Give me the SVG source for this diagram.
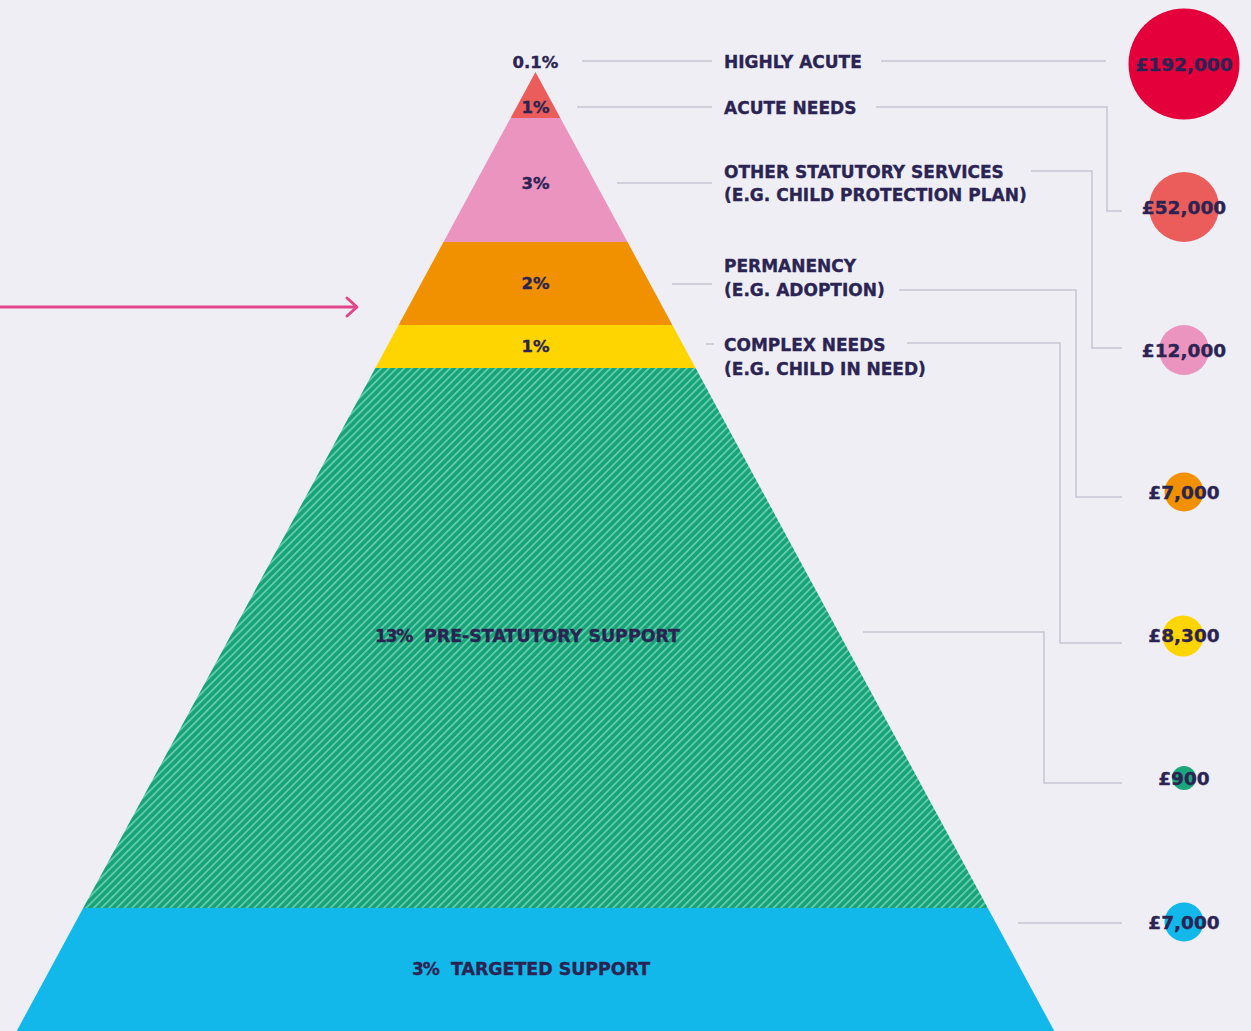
<svg xmlns="http://www.w3.org/2000/svg" width="1251" height="1031" viewBox="0 0 1251 1031">
  <defs>
    <pattern id="hatch" patternUnits="userSpaceOnUse" width="5.4" height="5.4" patternTransform="rotate(45)">
      <rect x="0" y="0" width="5.4" height="5.4" fill="#17a278"/>
      <rect x="0" y="0" width="1.9" height="5.4" fill="#5fcca9"/>
    </pattern>
  </defs>
  <style>
    text { font-family: "DejaVu Sans", "Liberation Sans", sans-serif; font-weight: bold; fill: #2b2453; stroke: #2b2453; stroke-width: 0.35; }
    .lbl { font-size: 17px; }
    .pct { font-size: 16.5px; text-anchor: middle; }
    .amt { font-size: 18.5px; text-anchor: middle; }
    .conn { fill: none; stroke: #c6c5d2; stroke-width: 1.5; }
    .arrow { fill: none; stroke: #e2468a; stroke-width: 3; stroke-linecap: round; stroke-linejoin: round; }
  </style>
  <rect width="1251" height="1031" fill="#efeef5"/>

  <g id="connectors">
    <line class="conn" x1="582" y1="61" x2="712" y2="61"/>
    <line class="conn" x1="577" y1="107" x2="712" y2="107"/>
    <line class="conn" x1="617" y1="183" x2="712" y2="183"/>
    <line class="conn" x1="672" y1="284" x2="712" y2="284"/>
    <line class="conn" x1="706" y1="344" x2="714" y2="344"/>
    <line class="conn" x1="881" y1="61" x2="1106" y2="61"/>
    <polyline class="conn" points="876,107 1107,107 1107,211 1122,211"/>
    <polyline class="conn" points="1031,171 1092,171 1092,348 1122,348"/>
    <polyline class="conn" points="899,290 1076,290 1076,497 1122,497"/>
    <polyline class="conn" points="907,343 1060,343 1060,643 1122,643"/>
    <polyline class="conn" points="863,632 1044,632 1044,783 1122,783"/>
    <line class="conn" x1="1018" y1="923" x2="1122" y2="923"/>
    <line class="arrow" x1="0" y1="307" x2="356" y2="307"/>
    <polyline class="arrow" points="347,298 357,307 347,316"/>
  </g>

  <g id="band-highly-acute">
    <text class="pct" x="535.5" y="68">0.1%</text>
  </g>
  <g id="band-acute">
    <polygon points="535.5,72 560.4,118 510.6,118" fill="#ea5d5a"/>
    <text class="pct" x="535.5" y="113">1%</text>
  </g>
  <g id="band-other-statutory">
    <polygon points="510.6,118 560.4,118 627.5,242 443.5,242" fill="#ec94c0"/>
    <text class="pct" x="535.5" y="189">3%</text>
  </g>
  <g id="band-permanency">
    <polygon points="443.5,242 627.5,242 672.4,325 398.6,325" fill="#f29100"/>
    <text class="pct" x="535.5" y="289">2%</text>
  </g>
  <g id="band-complex">
    <polygon points="398.6,325 672.4,325 695.6,368 375.4,368" fill="#ffd500"/>
    <text class="pct" x="535.5" y="352">1%</text>
  </g>
  <g id="band-pre-statutory">
    <polygon points="375.4,368 695.6,368 987.8,908 83.2,908" fill="url(#hatch)"/>
    <text class="lbl" x="375" y="641.5" letter-spacing="-1.2">13%</text>
    <text class="lbl" x="424" y="641.5" textLength="256" lengthAdjust="spacingAndGlyphs">PRE-STATUTORY SUPPORT</text>
  </g>
  <g id="band-targeted">
    <polygon points="83.2,908 987.8,908 1054.3,1031 16.7,1031" fill="#12b8ea"/>
    <text class="lbl" x="412" y="974.5" letter-spacing="-1.2">3%</text>
    <text class="lbl" x="451" y="974.5" textLength="199" lengthAdjust="spacingAndGlyphs">TARGETED SUPPORT</text>
  </g>

  <g id="label-highly-acute"><text class="lbl" x="724" y="67.5">HIGHLY ACUTE</text></g>
  <g id="label-acute-needs"><text class="lbl" x="724" y="113.5">ACUTE NEEDS</text></g>
  <g id="label-other-statutory">
    <text class="lbl" x="724" y="177.5">OTHER STATUTORY SERVICES</text>
    <text class="lbl" x="724" y="200.5">(E.G. CHILD PROTECTION PLAN)</text>
  </g>
  <g id="label-permanency">
    <text class="lbl" x="724" y="271.5">PERMANENCY</text>
    <text class="lbl" x="724" y="295.5">(E.G. ADOPTION)</text>
  </g>
  <g id="label-complex">
    <text class="lbl" x="724" y="350.5">COMPLEX NEEDS</text>
    <text class="lbl" x="724" y="374.5">(E.G. CHILD IN NEED)</text>
  </g>

  <g id="cost-192000">
    <circle cx="1184" cy="64" r="55.5" fill="#e4003b"/>
    <text class="amt" x="1184" y="71">£192,000</text>
  </g>
  <g id="cost-52000">
    <circle cx="1184" cy="207" r="35" fill="#ea5d5a"/>
    <text class="amt" x="1184" y="214">£52,000</text>
  </g>
  <g id="cost-12000">
    <circle cx="1184" cy="350" r="25" fill="#ec94c0"/>
    <text class="amt" x="1184" y="356.5">£12,000</text>
  </g>
  <g id="cost-7000-orange">
    <circle cx="1184" cy="492" r="19.5" fill="#f29100"/>
    <text class="amt" x="1184" y="499">£7,000</text>
  </g>
  <g id="cost-8300">
    <circle cx="1183" cy="636" r="20.5" fill="#ffd500"/>
    <text class="amt" x="1184" y="642">£8,300</text>
  </g>
  <g id="cost-900">
    <circle cx="1184" cy="778" r="12" fill="#1ba67c"/>
    <text class="amt" x="1184" y="785">£900</text>
  </g>
  <g id="cost-7000-blue">
    <circle cx="1184" cy="922" r="19.5" fill="#12b8ea"/>
    <text class="amt" x="1184" y="928.5">£7,000</text>
  </g>
</svg>
